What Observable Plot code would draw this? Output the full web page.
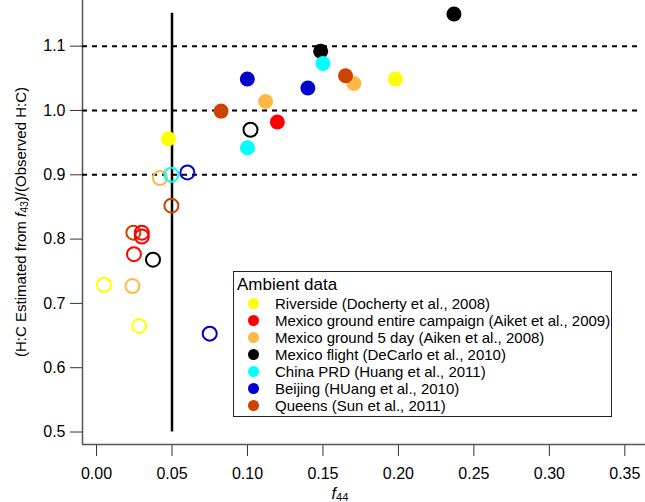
<!DOCTYPE html>
<html><head><meta charset="utf-8">
<script src="https://cdn.jsdelivr.net/npm/d3@7"></script>
<script src="https://cdn.jsdelivr.net/npm/@observablehq/plot@0.6"></script>
<style>
body{margin:0;background:#fff;font-family:"Liberation Sans",Arial,sans-serif;}
#wrap{position:relative;width:645px;height:502px;overflow:hidden;}
#legend{position:absolute;left:233px;top:271px;width:377px;height:144px;border:1.5px solid #222;background:#fff;}
#legend .title{position:absolute;left:3px;top:3px;font-size:17px;color:#000;}
#legend .row{position:absolute;left:0;height:17px;color:#000;white-space:nowrap;}
#legend .sw{position:absolute;left:14px;top:3px;width:11px;height:11px;border-radius:50%;}
#legend .lab{position:absolute;left:41px;top:0px;line-height:17px;font-size:15px;}
#ylab{position:absolute;left:21px;top:222px;transform:translate(-50%,-50%) rotate(-90deg);font-size:15px;white-space:nowrap;}
#xlab{position:absolute;left:340px;top:494px;transform:translate(-50%,-50%);font-size:16px;white-space:nowrap;}
sub{font-size:70%;vertical-align:-0.25em;}
</style></head><body><div id="wrap"></div>
<script>
const seriesNames = [
  "Riverside (Docherty et al., 2008)",
  "Mexico ground entire campaign (Aiket et al., 2009)",
  "Mexico ground 5 day (Aiken et al., 2008)",
  "Mexico flight (DeCarlo et al., 2010)",
  "China PRD (Huang et al., 2011)",
  "Beijing (HUang et al., 2010)",
  "Queens (Sun et al., 2011)"
];
const seriesColors = ["#ffff00","#ff0000","#ffb845","#000000","#00ffff","#0000cc","#cc4400"];

// filled markers
const filledSeries = [0,0,1,2,2,3,3,4,4,5,5,6,6];
const filledX = [0.0476,0.198,0.1198,0.112,0.1705,0.2368,0.1485,0.100,0.150,0.0999,0.140,0.0825,0.165];
const filledY = [0.956,1.049,0.982,1.014,1.042,1.150,1.092,0.942,1.073,1.049,1.035,0.999,1.054];

// open markers
const openSeries = [6,6,0,0,1,1,1,2,2,3,3,4,5,5];
const openX = [0.0496,0.0244,0.005,0.0282,0.030,0.030,0.0248,0.042,0.0238,0.102,0.0374,0.0496,0.0602,0.075];
const openY = [0.852,0.810,0.729,0.665,0.810,0.804,0.7765,0.895,0.727,0.970,0.768,0.900,0.9036,0.653];

const xTicks = [0,0.05,0.10,0.15,0.20,0.25,0.30,0.35];
const yTicks = [0.5,0.6,0.7,0.8,0.9,1.0,1.1];
const dashedY = [0.9,1.0,1.1];
const vertX = [0.05];
const vertRange = [0.5,1.151];
const xDomain = [-0.0093,0.3637];
const yDomain = [0.4806,1.171];
const dashedEndX = 0.3616;

const filled = filledX.map((x,i)=>({x, y:filledY[i], s:seriesNames[filledSeries[i]]}));
const open = openX.map((x,i)=>({x, y:openY[i], s:seriesNames[openSeries[i]]}));

const chart = Plot.plot({
  width:645, height:502,
  marginLeft:82, marginRight:0, marginTop:0, marginBottom:58,
  style:{fontFamily:"Liberation Sans, Arial, sans-serif", fontSize:"16px", background:"white", color:"#000"},
  x:{domain:xDomain, label:null},
  y:{domain:yDomain, label:null},
  color:{domain:seriesNames, range:seriesColors},
  marks:[
    Plot.axisX({ticks:xTicks, tickFormat:d3.format(".2f"), tickSize:12, tickPadding:11, stroke:"#333", fontSize:16}),
    Plot.axisY({ticks:yTicks, tickFormat:d3.format(".1f"), tickSize:12, tickPadding:5, stroke:"#333", fontSize:16}),
    Plot.ruleX([xDomain[0]], {stroke:"#555", strokeWidth:1.5}),
    Plot.ruleY([yDomain[0]], {stroke:"#555", strokeWidth:1.5}),
    Plot.ruleY(dashedY, {x1:xDomain[0], x2:dashedEndX, stroke:"#000", strokeWidth:2, strokeDasharray:"5,5"}),
    Plot.ruleX(vertX, {y1:vertRange[0], y2:vertRange[1], stroke:"#000", strokeWidth:2.5}),
    Plot.dot(open, {x:"x", y:"y", stroke:"s", fill:"none", r:7, strokeWidth:2}),
    Plot.dot(filled, {x:"x", y:"y", fill:"s", r:7.5})
  ]
});

const wrap = document.getElementById("wrap");
wrap.appendChild(chart);

const ylab = document.createElement("div");
ylab.id = "ylab";
ylab.innerHTML = "(H:C Estimated from <i>f</i><sub>43</sub>)/(Observed H:C)";
wrap.appendChild(ylab);

const xlab = document.createElement("div");
xlab.id = "xlab";
xlab.innerHTML = "<i>f</i><sub>44</sub>";
wrap.appendChild(xlab);

const leg = document.createElement("div");
leg.id = "legend";
leg.innerHTML = '<div class="title">Ambient data</div>' + seriesNames.map((n,i)=>
  `<div class="row" style="top:${23+i*17}px"><div class="sw" style="background:${seriesColors[i]}"></div><div class="lab">${n}</div></div>`).join("");
wrap.appendChild(leg);
</script>
</body></html>
